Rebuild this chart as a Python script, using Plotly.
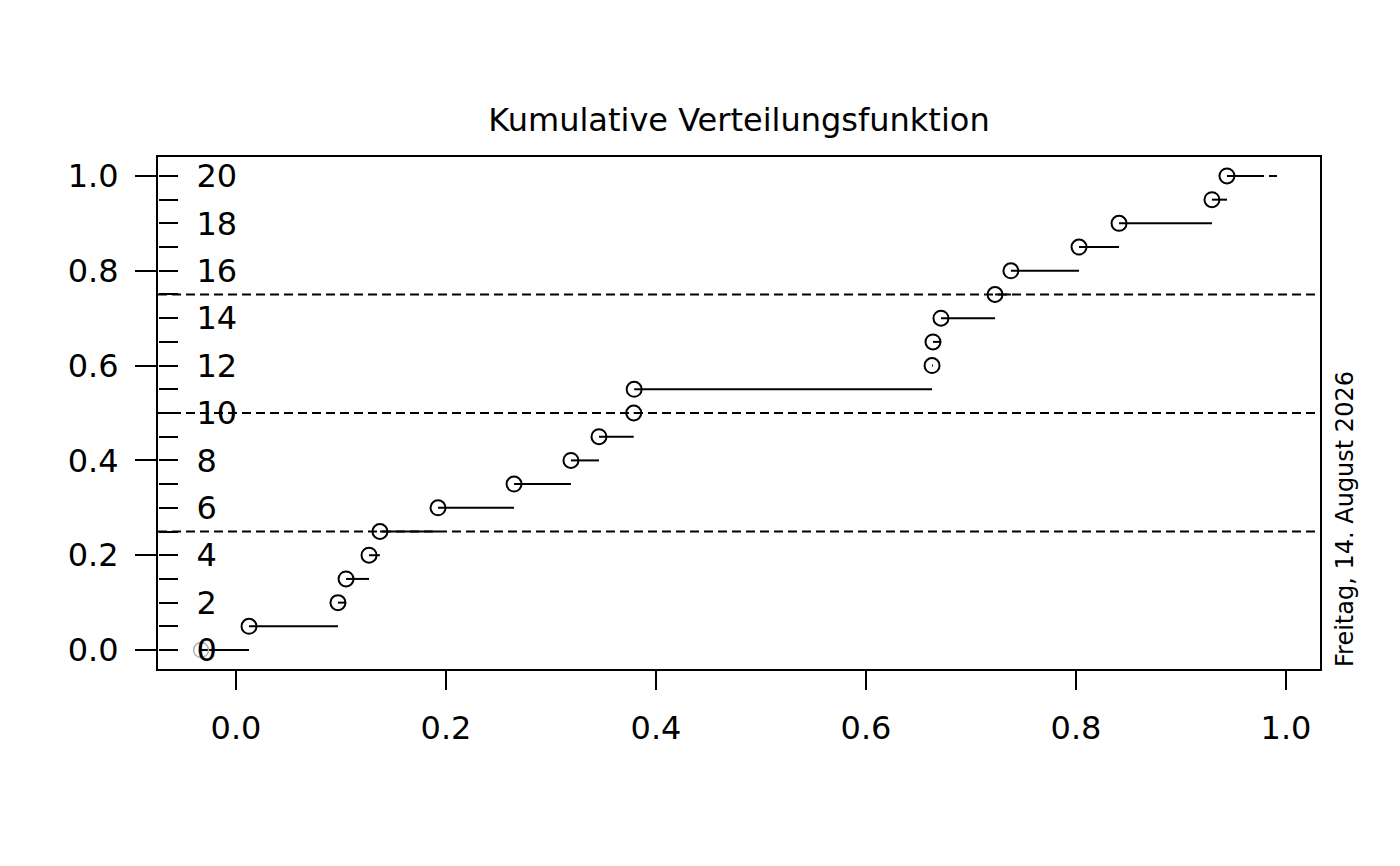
import plotly.graph_objects as go

# empirical CDF: jump points (x) and the level reached at each jump
jump_x = [0.0124, 0.0971, 0.1048, 0.1267, 0.1371, 0.1924, 0.2648, 0.3190, 0.3457, 0.3788,
          0.3792, 0.6629, 0.6638, 0.6714, 0.7229, 0.7380, 0.8029, 0.8410, 0.9295, 0.9438]
jump_y = [0.05, 0.10, 0.15, 0.20, 0.25, 0.30, 0.35, 0.40, 0.45, 0.50,
          0.55, 0.60, 0.65, 0.70, 0.75, 0.80, 0.85, 0.90, 0.95, 1.00]
x_left = -0.0333
x_right = 0.9914
quartiles = [0.25, 0.50, 0.75]

x_ticks = [0.0, 0.2, 0.4, 0.6, 0.8, 1.0]
x_ticklabels = ["0.0", "0.2", "0.4", "0.6", "0.8", "1.0"]
y_ticks = [0.0, 0.2, 0.4, 0.6, 0.8, 1.0]
y_ticklabels = ["0.0", "0.2", "0.4", "0.6", "0.8", "1.0"]
count_ticks = [i * 0.05 for i in range(21)]
count_ticklabels = [str(i) if i % 2 == 0 else "" for i in range(21)]

title = "Kumulative Verteilungsfunktion"
date_text = "Freitag, 14. August 2026"

FONT = "DejaVu Sans"
BLACK = "black"
FS = 32

# horizontal steps (all but the last one), separated by None
seg_x, seg_y = [x_left, jump_x[0], None], [0.0, 0.0, None]
for i in range(len(jump_x) - 1):
    seg_x += [jump_x[i], jump_x[i + 1], None]
    seg_y += [jump_y[i], jump_y[i], None]

fig = go.Figure()

for q in quartiles:
    fig.add_hline(y=q, line=dict(color=BLACK, width=2, dash="9px,5px"))

fig.add_trace(go.Scatter(x=seg_x, y=seg_y, mode="lines",
                         line=dict(color=BLACK, width=2), hoverinfo="skip"))
# last step running out to the right end
fig.add_trace(go.Scatter(x=[jump_x[-1], x_right], y=[jump_y[-1], jump_y[-1]], mode="lines",
                         line=dict(color=BLACK, width=2, dash="37px,5px,8px,300px"),
                         hoverinfo="skip"))
# faint starting point
fig.add_trace(go.Scatter(x=[x_left], y=[0.0], mode="markers",
                         marker=dict(symbol="circle-open", size=15, color="#b0b0b0",
                                     line=dict(width=1.5, color="#b0b0b0"))))
fig.add_trace(go.Scatter(x=jump_x, y=jump_y, mode="markers",
                         marker=dict(symbol="circle-open", size=15, color=BLACK,
                                     line=dict(width=2, color=BLACK))))

fig.update_layout(
    width=1400, height=866,
    margin=dict(l=150, r=88, t=149, b=205),
    paper_bgcolor="white", plot_bgcolor="white",
    showlegend=False,
    font=dict(family=FONT, size=FS, color=BLACK),
    title=dict(text=title, x=0.5, xref="paper", xanchor="center",
               y=1 - 112 / 866, yanchor="middle",
               font=dict(family=FONT, size=FS, color=BLACK)),
    xaxis=dict(range=[-0.0743, 1.0324], tickvals=x_ticks, ticktext=x_ticklabels,
               ticks="outside", ticklen=19, tickwidth=2, tickcolor=BLACK,
               showgrid=False, zeroline=False, showline=True, linecolor=BLACK,
               linewidth=2, mirror=True, ticklabelstandoff=11,
               tickfont=dict(family=FONT, size=FS, color=BLACK)),
    yaxis=dict(range=[-0.04, 1.04], tickvals=y_ticks, ticktext=y_ticklabels,
               ticks="outside", ticklen=21, tickwidth=2, tickcolor=BLACK,
               showgrid=False, zeroline=False, showline=True, linecolor=BLACK,
               linewidth=2, mirror=True, ticklabelstandoff=10,
               tickfont=dict(family=FONT, size=FS, color=BLACK)),
    # count axis: sits on the left frame, ticks and labels pointing into the plot
    yaxis2=dict(range=[-0.04, 1.04], overlaying="y", side="right",
                anchor="free", position=0,
                tickvals=count_ticks, ticktext=count_ticklabels,
                ticks="outside", ticklen=19, tickwidth=2, tickcolor=BLACK,
                ticklabelstandoff=12,
                showgrid=False, zeroline=False, showline=False,
                tickfont=dict(family=FONT, size=FS, color=BLACK)),
)

# invisible trace so the count axis is drawn
fig.add_trace(go.Scatter(x=[x_left], y=[0.0], yaxis="y2", mode="markers",
                         marker=dict(opacity=0), hoverinfo="skip"))

fig.add_annotation(text=date_text, xref="paper", yref="paper", x=1.0215, y=0.0,
                   xanchor="center", yanchor="bottom", textangle=-90, showarrow=False,
                   font=dict(family=FONT, size=24, color=BLACK))

fig.write_html("out.html")
